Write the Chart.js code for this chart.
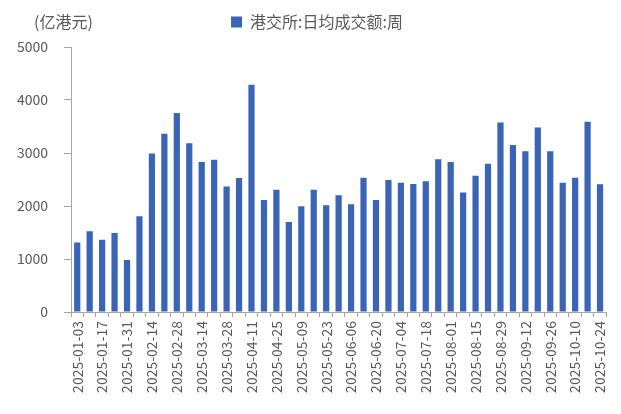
<!DOCTYPE html>
<html>
<head>
<meta charset="utf-8">
<script src="https://cdn.jsdelivr.net/npm/chart.js@4"></script>
<style>
  html, body { margin: 0; padding: 0; background: #fff; }
  #wrap { width: 621px; height: 414px; }
</style>
</head>
<body>
<div id="wrap"><canvas id="chart" width="621" height="414"></canvas></div>
<script>
// weekly dates (every Friday)
const weeks = [
    '2025-01-03', '2025-01-10', '2025-01-17', '2025-01-24', '2025-01-31',
    '2025-02-07', '2025-02-14', '2025-02-21', '2025-02-28', '2025-03-07',
    '2025-03-14', '2025-03-21', '2025-03-28', '2025-04-04', '2025-04-11',
    '2025-04-18', '2025-04-25', '2025-05-02', '2025-05-09', '2025-05-16',
    '2025-05-23', '2025-05-30', '2025-06-06', '2025-06-13', '2025-06-20',
    '2025-06-27', '2025-07-04', '2025-07-11', '2025-07-18', '2025-07-25',
    '2025-08-01', '2025-08-08', '2025-08-15', '2025-08-22', '2025-08-29',
    '2025-09-05', '2025-09-12', '2025-09-19', '2025-09-26', '2025-10-03',
    '2025-10-10', '2025-10-17', '2025-10-24'
];
// 港交所:日均成交额:周 (亿港元)
const turnover = [
    1310, 1525, 1365, 1490, 980,
    1805, 2990, 3365, 3755, 3185,
    2830, 2875, 2370, 2530, 4290,
    2115, 2305, 1700, 1995, 2305,
    2015, 2205, 2035, 2535, 2115,
    2490, 2440, 2415, 2465, 2880,
    2830, 2255, 2570, 2795, 3575,
    3150, 3035, 3480, 3035, 2440,
    2535, 3590, 2410
];
const yTicks = [0, 1000, 2000, 3000, 4000, 5000];

const textColor = '#595959';
const axisColor = '#a6a6a6';
const barColor = '#3a64b5';
const font = "'Noto Sans CJK SC', 'Noto Sans', sans-serif";

const unitLabel = {
    id: 'unitLabel',
    afterDraw(chart) {
        const ctx = chart.ctx;
        ctx.save();
        ctx.font = '16px ' + font;
        ctx.fillStyle = textColor;
        ctx.textBaseline = 'middle';
        ctx.fillText('(亿港元)', 34, 22);
        ctx.restore();
    }
};

// extra room under the legend, and centre it over the plot area
const legendTweak = {
    id: 'legendTweak',
    beforeInit(chart) {
        const fit = chart.legend.fit;
        chart.legend.fit = function () {
            fit.bind(chart.legend)();
            this.height += 7;
        };
    },
    afterLayout(chart) {
        chart.legend.left += 26;
    }
};

new Chart(document.getElementById('chart').getContext('2d'), {
    type: 'bar',
    data: {
        labels: weeks,
        datasets: [{
            label: '港交所:日均成交额:周',
            data: turnover,
            backgroundColor: barColor,
            borderWidth: 0,
            categoryPercentage: 1.0,
            barPercentage: 0.5
        }]
    },
    options: {
        responsive: false,
        animation: false,
        layout: { padding: { top: 4, right: 13, left: 0, bottom: 0 } },
        plugins: {
            legend: {
                display: true,
                position: 'top',
                labels: {
                    color: textColor,
                    font: { family: font, size: 16 },
                    boxWidth: 11,
                    boxHeight: 11,
                    padding: 10
                }
            },
            tooltip: { enabled: false }
        },
        scales: {
            x: {
                offset: true,
                grid: {
                    offset: true,
                    drawOnChartArea: false,
                    drawTicks: true,
                    tickLength: 5,
                    color: axisColor
                },
                border: { display: true, color: axisColor },
                ticks: {
                    color: textColor,
                    font: { family: font, size: 14 },
                    autoSkip: false,
                    minRotation: 90,
                    maxRotation: 90,
                    padding: 4,
                    callback: function (val, idx) {
                        return idx % 2 === 0 ? this.getLabelForValue(val) : '';
                    }
                },
                afterFit: (scale) => { scale.height = 102; }
            },
            y: {
                min: 0,
                max: 5000,
                afterBuildTicks: (scale) => { scale.ticks = yTicks.map(v => ({ value: v })); },
                grid: {
                    drawOnChartArea: false,
                    drawTicks: true,
                    tickLength: 7,
                    color: axisColor
                },
                border: { display: true, color: axisColor },
                ticks: {
                    color: textColor,
                    font: { family: font, size: 14 },
                    padding: 16,
                    callback: (v) => String(v)
                },
                afterFit: (scale) => { scale.width = 71; }
            }
        }
    },
    plugins: [unitLabel, legendTweak]
});
</script>
</body>
</html>
